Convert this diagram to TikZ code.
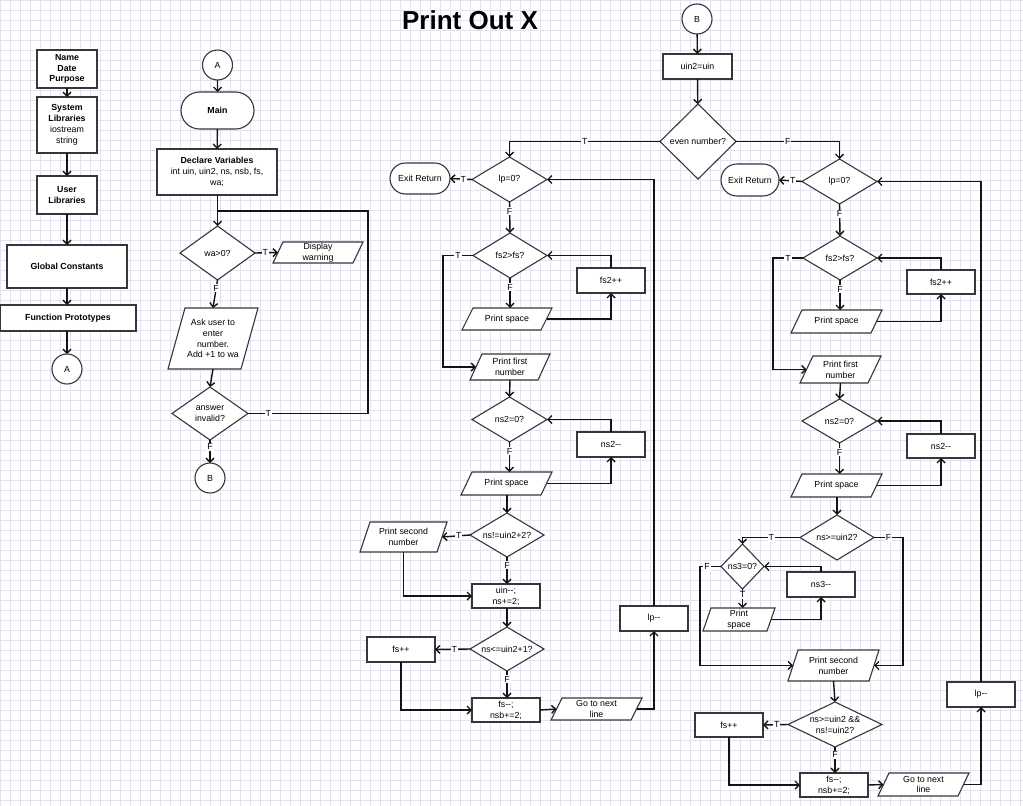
\documentclass[tikz,border=0pt]{standalone}
\usepackage{fontspec}
\setmainfont{Liberation Sans}
\usetikzlibrary{shapes.geometric,shapes.misc,arrows.meta,backgrounds}
\definecolor{shapec}{RGB}{55,55,55}
\definecolor{linec}{RGB}{20,20,20}
\definecolor{gridc}{RGB}{226,226,240}
\newcommand\nf{\fontsize{8.8}{10.8}\selectfont}
\newcommand\pgram[2]{\begin{pgfonlayer}{background}\draw[pshape] ([xshift=#2pt]#1.north west) -- ([xshift=#2pt]#1.north east) -- ([xshift=-#2pt]#1.south east) -- ([xshift=-#2pt]#1.south west) -- cycle;\end{pgfonlayer}}
\begin{document}
\begin{tikzpicture}[x=1pt,y=-1pt,
  box/.style={rectangle, draw=shapec, line width=1.1pt, fill=white, minimum width=68, minimum height=25, inner sep=1pt, outer sep=0pt, align=center, font=\nf},
  bbox/.style={box, font=\nf\bfseries},
  dia/.style={diamond, draw=shapec, line width=1.1pt, fill=white, inner sep=0pt, outer sep=0pt, align=center, font=\nf},
  term/.style={rounded rectangle, draw=shapec, line width=1.1pt, fill=white, inner sep=1pt, outer sep=0pt, align=center, font=\nf},
  conc/.style={circle, draw=shapec, line width=1.1pt, fill=white, minimum size=30, inner sep=0pt, outer sep=0pt, font=\nf},
  pg/.style={rectangle, inner sep=1pt, outer sep=0pt, minimum height=23, align=center, font=\nf},
  pshape/.style={draw=shapec, line width=1.1pt, fill=white, line join=miter},
  conn/.style={draw=linec, line width=1.4pt},
  arr/.style={conn, -{Straight Barb[length=4pt,width=8pt]}},
  lbl/.style={fill=white, inner sep=1pt, font=\nf}]
\useasboundingbox (0,0) rectangle (1023,806);
\begin{pgfonlayer}{background}
\fill[white] (0,0) rectangle (1023,806);
\draw[gridc,line width=0.6pt] (0,0) grid[step=10pt] (1023,806);
\end{pgfonlayer}

\node[font=\fontsize{26}{30}\selectfont\bfseries] (title) at (470,20) {Print Out X};

% ---- left column
\node[bbox, minimum width=60, minimum height=38] (n1) at (67,69) {Name\\Date\\Purpose};
\node[box, minimum width=60, minimum height=56] (n2) at (67,125) {\textbf{System}\\\textbf{Libraries}\\iostream\\string};
\node[bbox, minimum width=60, minimum height=38] (n3) at (67,195) {User\\Libraries};
\node[bbox, minimum width=120, minimum height=43] (n4) at (67,266.5) {Global Constants};
\node[bbox, minimum width=136, minimum height=26] (n5) at (68,318) {Function Prototypes};
\node[conc] (a1) at (67,369) {A};
\draw[arr] (n1) -- (n2);
\draw[arr] (n2) -- (n3);
\draw[arr] (n3) -- (n4);
\draw[arr] (n4.south -| n1) -- (n5.north -| n1);
\draw[arr] (n5.south -| a1) -- (a1);

% ---- second column
\node[conc] (a2) at (217.5,65) {A};
\node[term, font=\nf\bfseries, minimum width=75, minimum height=37] (main) at (217.5,110.5) {Main};
\node[box, minimum width=120, minimum height=46] (decl) at (217,172) {\textbf{Declare Variables}\\int uin, uin2, ns, nsb, fs,\\wa;};
\node[dia, minimum width=75, minimum height=54, aspect=1.4] (wa) at (217.5,253) {wa>0?};
\node[pg, minimum width=80, minimum height=21] (disp) at (318,252.5) {Display\\warning};
\pgram{disp}{5}
\node[pg, minimum width=73, minimum height=61] (ask) at (213,338.5) {Ask user to\\enter\\number.\\Add +1 to wa};
\pgram{ask}{8.5}
\node[dia, minimum width=76, minimum height=53, aspect=1.43] (inv) at (210,413.5) {answer\\invalid?};
\node[conc] (b1) at (210,478) {B};
\coordinate (join) at (217.5,211);
\coordinate (loopR) at (368,211);
\draw[arr] (a2) -- (main);
\draw[arr] (main) -- (decl);
\draw[arr] (decl.south -| wa) -- (wa);
\draw[arr] (wa.east) -- node[lbl,pos=0.45]{T} (disp.west);
\draw[arr] (wa.south) -- node[lbl,pos=0.3]{F} (ask.north);
\draw[arr] (ask.south) -- (inv.north);
\draw[arr] (inv.south) -- node[lbl,pos=0.3]{F} (b1.north);
\draw[conn] (inv.east) -- node[lbl,pos=0.17]{T} (inv.east -| loopR) -- (loopR) -- (join);

% ---- middle column
\node[conc] (b2) at (697,19) {B};
\node[box, minimum width=69] (uin2) at (697.5,66.5) {uin2=uin};
\node[dia, minimum width=76, minimum height=75, aspect=1] (even) at (698,141.5) {even number?};
\node[dia, minimum width=75, minimum height=45, aspect=1.67] (lpA) at (509.5,179.5) {lp=0?};
\node[term, minimum width=62, minimum height=31] (exitA) at (420,178.5) {Exit Return};
\node[dia, minimum width=74, minimum height=45, aspect=1.65] (fsA) at (510,255.5) {fs2>fs?};
\node[box] (fsppA) at (611,280.5) {fs2++};
\node[pg, minimum width=79, minimum height=22] (psA1) at (507,319) {Print space};
\pgram{psA1}{5.5}
\node[pg, minimum width=68, minimum height=26] (pfA) at (510,367) {Print first\\number};
\pgram{pfA}{6}
\node[dia, minimum width=75, minimum height=45, aspect=1.67] (ns2A) at (509.5,419.5) {ns2=0?};
\node[box] (ns2mmA) at (611,444.5) {ns2-{}-};
\node[pg, minimum width=80, minimum height=23] (psA2) at (506.5,483.5) {Print space};
\pgram{psA2}{5.5}
\node[dia, minimum width=74, minimum height=44, aspect=1.68] (neA) at (507,535) {ns!=uin2+2?};
\node[pg, minimum width=77, minimum height=30] (psecA) at (403.5,537) {Print second\\number};
\pgram{psecA}{5}
\node[box, minimum height=24] (uinA) at (506,596) {uin-{}-;\\ns+=2;};
\node[dia, minimum width=74, minimum height=44, aspect=1.68] (leA) at (507,649) {ns<=uin2+1?};
\node[box] (fsppA2) at (401,649.5) {fs++};
\node[box, minimum height=24] (fsmmA) at (506,710) {fs-{}-;\\nsb+=2;};
\node[pg, minimum width=80, minimum height=22] (goA) at (596.5,709) {Go to next\\line};
\pgram{goA}{5.5}
\node[box] (lpmmA) at (654,618.5) {lp-{}-};

\draw[arr] (b2) -- (uin2);
\draw[arr] (uin2) -- (even);
\draw[arr] (even.west) -| node[lbl,pos=0.25]{T} (lpA.north);
\draw[arr] (lpA.west) -- node[lbl,pos=0.4]{T} (exitA.east);
\draw[arr] (lpA.south) -- node[lbl,pos=0.3]{F} (fsA.north);
\draw[arr] (fsA.west) -- node[lbl]{T} ++(-30,0) |- (pfA.west);
\draw[arr] (fsA.south) -- node[lbl,pos=0.3]{F} (psA1.north -| fsA);
\draw[arr] (psA1.east) -| (fsppA.south);
\draw[arr] (fsppA.north) |- (fsA.east);
\draw[arr] (pfA.south) -- (ns2A.north);
\draw[arr] (ns2A.south) -- node[lbl,pos=0.3]{F} (psA2.north -| ns2A);
\draw[arr] (psA2.east) -| (ns2mmA.south);
\draw[arr] (ns2mmA.north) |- (ns2A.east);
\draw[arr] (psA2.south -| neA) -- (neA.north);
\draw[arr] (neA.west) -- node[lbl,pos=0.4]{T} (psecA.east);
\draw[arr] (neA.south) -- node[lbl,pos=0.3]{F} (uinA.north -| neA);
\draw[arr] (psecA.south) |- (uinA.west);
\draw[arr] (uinA.south -| leA) -- (leA.north);
\draw[arr] (leA.west) -- node[lbl,pos=0.45]{T} (fsppA2.east);
\draw[arr] (leA.south) -- node[lbl,pos=0.3]{F} (fsmmA.north -| leA);
\draw[arr] (fsppA2.south) |- (fsmmA.west);
\draw[arr] (fsmmA.east) -- (goA.west);
\draw[arr] (goA.east) -| (lpmmA.south);
\draw[arr] (lpmmA.north) |- (lpA.east);

% ---- right column
\node[dia, minimum width=75, minimum height=45, aspect=1.67] (lpB) at (839.5,181.5) {lp=0?};
\node[term, minimum width=60, minimum height=32] (exitB) at (750,180) {Exit Return};
\node[dia, minimum width=74, minimum height=44, aspect=1.68] (fsB) at (840,258) {fs2>fs?};
\node[box, minimum height=24] (fsppB) at (941,282) {fs2++};
\node[pg, minimum width=80, minimum height=23] (psB1) at (836.5,321.5) {Print space};
\pgram{psB1}{5.5}
\node[pg, minimum width=68, minimum height=27] (pfB) at (840.5,369.5) {Print first\\number};
\pgram{pfB}{6.5}
\node[dia, minimum width=75, minimum height=44, aspect=1.7] (ns2B) at (839.5,421) {ns2=0?};
\node[box, minimum height=24] (ns2mmB) at (941,446) {ns2-{}-};
\node[pg, minimum width=80, minimum height=23] (psB2) at (836.5,485.5) {Print space};
\pgram{psB2}{5.5}
\node[dia, minimum width=74, minimum height=45, aspect=1.65] (geB) at (837,537.5) {ns>=uin2?};
\node[dia, minimum width=43, minimum height=45, aspect=0.95] (ns3B) at (742.5,566.5) {ns3=0?};
\node[box] (ns3mmB) at (821,584.5) {ns3-{}-};
\node[pg, minimum width=64, minimum height=23] (psB3) at (739,619.5) {Print\\space};
\pgram{psB3}{4}
\node[pg, minimum width=81, minimum height=31] (psecB) at (833.5,665.5) {Print second\\number};
\pgram{psecB}{5}
\node[dia, minimum width=94, minimum height=45, aspect=2.09] (andB) at (835,724.5) {ns>=uin2 \&\&\\ns!=uin2?};
\node[box, minimum height=24] (fsppB2) at (729,725) {fs++};
\node[box, minimum height=24] (fsmmB) at (834,785) {fs-{}-;\\nsb+=2;};
\node[pg, minimum width=80, minimum height=23] (goB) at (923.5,784.5) {Go to next\\line};
\pgram{goB}{5.5}
\node[box] (lpmmB) at (981,694.5) {lp-{}-};

\draw[arr] (even.east) -| node[lbl,pos=0.25]{F} (lpB.north);
\draw[arr] (lpB.west) -- node[lbl,pos=0.4]{T} (exitB.east);
\draw[arr] (lpB.south) -- node[lbl,pos=0.3]{F} (fsB.north);
\draw[arr] (fsB.west) -- node[lbl]{T} ++(-30,0) |- (pfB.west);
\draw[arr] (fsB.south) -- node[lbl,pos=0.3]{F} (psB1.north -| fsB);
\draw[arr] (psB1.east) -| (fsppB.south);
\draw[arr] (fsppB.north) |- (fsB.east);
\draw[arr] (pfB.south) -- (ns2B.north);
\draw[arr] (ns2B.south) -- node[lbl,pos=0.3]{F} (psB2.north -| ns2B);
\draw[arr] (psB2.east) -| (ns2mmB.south);
\draw[arr] (ns2mmB.north) |- (ns2B.east);
\draw[arr] (psB2.south -| geB) -- (geB.north);
\draw[arr] (geB.west) -| node[lbl,pos=0.25]{T} (ns3B.north);
\draw[arr] (geB.east) -- node[lbl]{F} ++(29,0) |- (psecB.east);
\draw[arr] (ns3B.west) -- node[lbl,pos=0.66]{F} ++(-21,0) |- (psecB.west);
\draw[arr] (ns3B.south) -- node[lbl,pos=0.3]{T} (psB3.north -| ns3B);
\draw[arr] (psB3.east) -| (ns3mmB.south);
\draw[arr] (ns3mmB.north) |- (ns3B.east);
\draw[arr] (psecB.south) -- (andB.north);
\draw[arr] (andB.west) -- node[lbl,pos=0.45]{T} (fsppB2.east);
\draw[arr] (andB.south) -- node[lbl,pos=0.3]{F} (fsmmB.north -| andB);
\draw[arr] (fsppB2.south) |- (fsmmB.west);
\draw[arr] (fsmmB.east) -- (goB.west);
\draw[arr] (goB.east) -| (lpmmB.south);
\draw[arr] (lpmmB.north) |- (lpB.east);
\end{tikzpicture}
\end{document}
